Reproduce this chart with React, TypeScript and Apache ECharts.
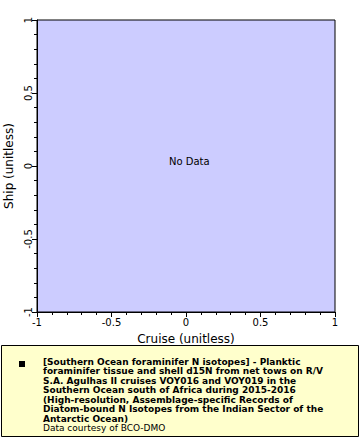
import React, { useEffect, useRef } from "react";
import * as echarts from "echarts";

const xRange = [-1, 1];
const yRange = [-1, 1];
const tickInterval = 0.5;
const xName = "Cruise (unitless)";
const yName = "Ship (unitless)";
const noDataText = "No Data";
const legendLines = [
  "[Southern Ocean foraminifer N isotopes] - Planktic",
  "foraminifer tissue and shell d15N from net tows on R/V",
  "S.A. Agulhas II cruises VOY016 and VOY019 in the",
  "Southern Ocean south of Africa during 2015-2016",
  "(High-resolution, Assemblage-specific Records of",
  "Diatom-bound N Isotopes from the Indian Sector of the",
  "Antarctic Ocean)",
];
const courtesy = "Data courtesy of BCO-DMO";

const fmt = (v: number) => (v === 0 ? "0" : String(v));

export default function App() {
  const ref = useRef<HTMLDivElement>(null);
  useEffect(() => {
    const chart = echarts.init(ref.current!, null, { renderer: "svg" });
    const font = "DejaVu Sans";
    const axisCommon = {
      type: "value" as const,
      interval: tickInterval,
      nameLocation: "middle" as const,
      nameTextStyle: { fontFamily: font, fontSize: 12, color: "#000" },
      axisLine: { show: true, onZero: false, lineStyle: { color: "#000", width: 1 } },
      axisTick: { show: true, inside: false, length: 5, lineStyle: { color: "#000" } },
      minorTick: { show: true, splitNumber: 5, length: 3, lineStyle: { color: "#000" } },
      splitLine: { show: false },
      minorSplitLine: { show: false },
    };
    chart.setOption({
      animation: false,
      textStyle: { fontFamily: font },
      grid: {
        left: 37,
        top: 20,
        right: 25,
        bottom: 128,
        containLabel: false,
        outerBoundsMode: "none",
        show: true,
        backgroundColor: "#ccccff",
        borderColor: "#000",
        borderWidth: 1,
      },
      xAxis: {
        ...axisCommon,
        min: xRange[0],
        max: xRange[1],
        name: xName,
        nameGap: 21,
        axisLabel: { fontFamily: font, fontSize: 10, color: "#000", margin: 5, formatter: fmt },
      },
      yAxis: {
        ...axisCommon,
        min: yRange[0],
        max: yRange[1],
        name: yName,
        nameGap: 20,
        axisLabel: { fontFamily: font, fontSize: 10, color: "#000", margin: 4, rotate: 90, formatter: fmt },
      },
      series: [{ type: "scatter", data: [] }],
      graphic: [
        {
          type: "text",
          left: 169,
          top: 156,
          style: { text: noDataText, font: `10px "${font}"`, fill: "#000" },
        },
        {
          type: "rect",
          shape: { x: 1.5, y: 345.5, width: 357, height: 91 },
          style: { fill: "#ffffcc", stroke: "#000", lineWidth: 1 },
        },
        {
          type: "rect",
          shape: { x: 19, y: 361, width: 6, height: 6 },
          style: { fill: "#000" },
        },
        {
          type: "text",
          x: 43,
          y: 357,
          style: {
            text: legendLines.join("\n"),
            font: `bold 9px "${font}"`,
            lineHeight: 9.5,
            fill: "#000",
          },
        },
        {
          type: "text",
          x: 43,
          y: 357 + legendLines.length * 9.5,
          style: { text: courtesy, font: `9px "${font}"`, lineHeight: 9.5, fill: "#000" },
        },
      ],
    });
    return () => chart.dispose();
  }, []);
  return (
    <div
      ref={ref}
      style={{ position: "absolute", left: 0, top: 0, width: 360, height: 440, background: "#fff" }}
    />
  );
}
